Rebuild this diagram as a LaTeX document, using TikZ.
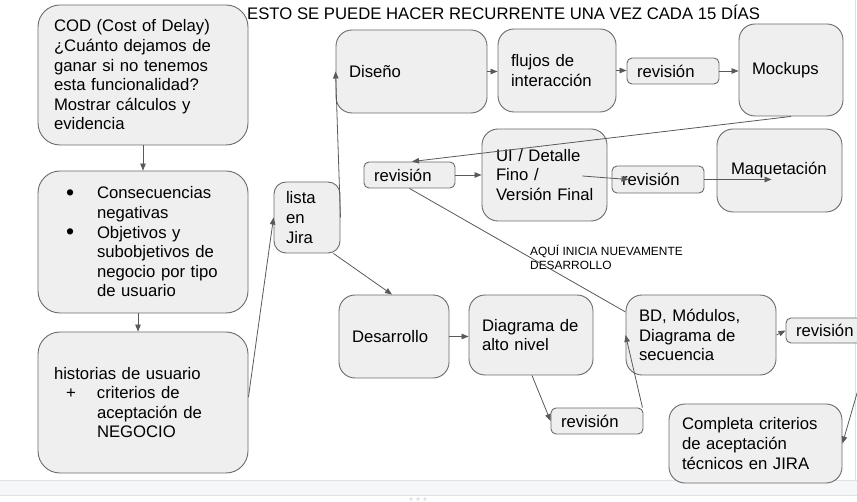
\documentclass[tikz,border=0pt]{standalone}
\usepackage{fontspec}
\setmainfont{Liberation Sans}
\usetikzlibrary{arrows.meta,calc}
\definecolor{boxfill}{HTML}{EFEFEF}
\definecolor{boxline}{HTML}{6B6B6B}
\definecolor{arrowgray}{HTML}{595959}
\definecolor{stripfill}{HTML}{F6F7F9}
\definecolor{stripline}{HTML}{DFE1E5}
\newcommand\txtmain{\fontsize{16.7}{19.6}\selectfont\hyphenpenalty=10000 }
\newcommand\txtsmall{\fontsize{11.9}{14}\selectfont}
\newcommand\itm[1]{\hspace*{12pt}\makebox[31pt][l]{#1}}
\newcommand\bul{\raisebox{-1.6pt}{\fontsize{23}{19.6}\selectfont\textbullet}}
\newcommand\hang{\hspace*{43pt}}
\tikzset{
  caja/.style={draw=boxline, fill=boxfill, line width=0.9pt, rounded corners=#1,
    font=\txtmain, align=left, inner ysep=0pt},
  caja/.default=16pt,
  revbox/.style={caja=5pt, inner xsep=10pt, text width=72pt},
  flecha/.style={draw=arrowgray, line width=0.8pt, -{Triangle[length=7pt,width=5.5pt]}},
  linea/.style={draw=arrowgray, line width=0.8pt}
}
\begin{document}
\begin{tikzpicture}[x=1pt,y=-1pt]
\useasboundingbox (0,0) rectangle (857,502);
\clip (0,0) rectangle (857,502);
\fill[stripfill] (0,481) rectangle (857,495);
\draw[stripline] (0,480.5) -- (857,480.5) (0,495.5) -- (857,495.5);
\draw[stripline] (855.5,0) -- (855.5,480.5);
\foreach \dx in {411,418,425} \fill[stripline] (\dx,499) circle (1.8);

\node[anchor=west, font=\txtmain, inner sep=0pt] (titulo) at (247,12) {ESTO SE PUEDE HACER RECURRENTE UNA VEZ CADA 15 DÍAS};

\node[caja=22pt, inner xsep=16pt, text width=178pt, minimum height=140pt] (cod) at (143,75)
  {COD (Cost of Delay)\\¿Cuánto dejamos de\\ganar si no tenemos\\esta funcionalidad?\\Mostrar cálculos y\\evidencia};
\node[caja=22pt, inner xsep=16pt, text width=178pt, minimum height=142pt] (consec) at (143,242)
  {\itm{\bul}Consecuencias\\\hang negativas\\\itm{\bul}Objetivos y\\\hang subobjetivos de\\\hang negocio por tipo\\\hang de usuario};
\node[caja=22pt, inner xsep=16pt, text width=178pt, minimum height=141pt] (historias) at (143,402.5)
  {historias de usuario\\\itm{+}criterios de\\\hang aceptación de\\\hang NEGOCIO};
\node[caja=12pt, inner xsep=12pt, text width=42pt, minimum height=71pt] (lista) at (307,217.5) {lista\\en\\Jira};

\node[caja, inner xsep=13pt, text width=125pt, minimum height=83pt] (diseno) at (411.5,71.5) {Diseño};
\node[caja, inner xsep=13pt, text width=92pt, minimum height=83pt] (flujos) at (557,70.5) {flujos de\\interacción};
\node[revbox, minimum height=26pt] (revflujos) at (673,71) {revisión};
\node[caja, inner xsep=13pt, text width=78pt, minimum height=92pt] (mockups) at (791,70) {Mockups};

\node[revbox, text width=71pt, minimum height=26pt] (revmock) at (409.5,175) {revisión};
\node[caja, inner xsep=14pt, text width=97pt, minimum height=92pt] (ui) at (544.5,175) {UI / Detalle\\Fino /\\Versión~Final};
\node[revbox, minimum height=27pt] (revui) at (658,179.5) {revisión};
\node[caja, inner xsep=14pt, text width=97pt, minimum height=83pt] (maquet) at (779.5,170.5) {Maquetación};

\node[anchor=west, font=\txtsmall, align=left, inner sep=0pt] (aqui) at (530,257) {AQUÍ INICIA NUEVAMENTE\\DESARROLLO};

\node[caja, inner xsep=13pt, text width=84pt, minimum height=83pt] (desarrollo) at (394,336.5) {Desarrollo};
\node[caja, inner xsep=13pt, text width=98pt, minimum height=80pt] (altonivel) at (531,335) {Diagrama de\\alto nivel};
\node[caja, inner xsep=13pt, text width=124pt, minimum height=80pt] (bd) at (701,335) {BD, Módulos,\\Diagrama de\\secuencia};
\node[revbox, minimum height=25pt] (revbd) at (832,330.5) {revisión};
\node[revbox, minimum height=26pt] (revalto) at (597,421) {revisión};
\node[caja, inner xsep=13pt, text width=147pt, minimum height=79pt] (completa) at (755.5,443.5)
  {Completa criterios\\de aceptación\\técnicos en JIRA};

\draw[flecha] (cod.south) -- (consec.north);
\draw[flecha] ([xshift=-5pt]consec.south) -- ([xshift=-5pt]historias.north);
\draw[flecha] ([yshift=5.5pt]historias.east) -- (lista.west);
\draw[flecha] (lista.east) -- (diseno.west);
\draw[flecha] (diseno.east) -- (diseno.east -| flujos.west);
\draw[flecha] (flujos.east) -- (flujos.east -| revflujos.west);
\draw[flecha] (revflujos.east) -- (revflujos.east -| mockups.west);
\draw[flecha] (mockups.south) -- ([xshift=2.5pt]revmock.north);
\draw[flecha] (revmock.east) -- (revmock.east -| ui.west);
\draw[flecha] ([xshift=-25pt,yshift=-1pt]ui.east) -- ([xshift=21pt]ui.east |- revui.west);
\draw[flecha] (revui.east) -- ([xshift=55pt]revui.east -| maquet.west);
\draw[linea] (revmock.south) -- ([yshift=23pt]bd.west);
\draw[flecha] ([xshift=-7pt]lista.south east) -- ([xshift=-2pt]desarrollo.north);
\draw[flecha] (desarrollo.east) -- (desarrollo.east -| altonivel.west);
\draw[flecha] ([xshift=1pt]altonivel.south) -- (revalto.west);
\draw[flecha] ([xshift=-1pt]revalto.north east) -- (bd.west);
\draw[flecha] (bd.east) -- (revbd.west);
\draw[flecha] ([xshift=-7pt]revbd.south east) -- (completa.east);
\end{tikzpicture}
\end{document}
